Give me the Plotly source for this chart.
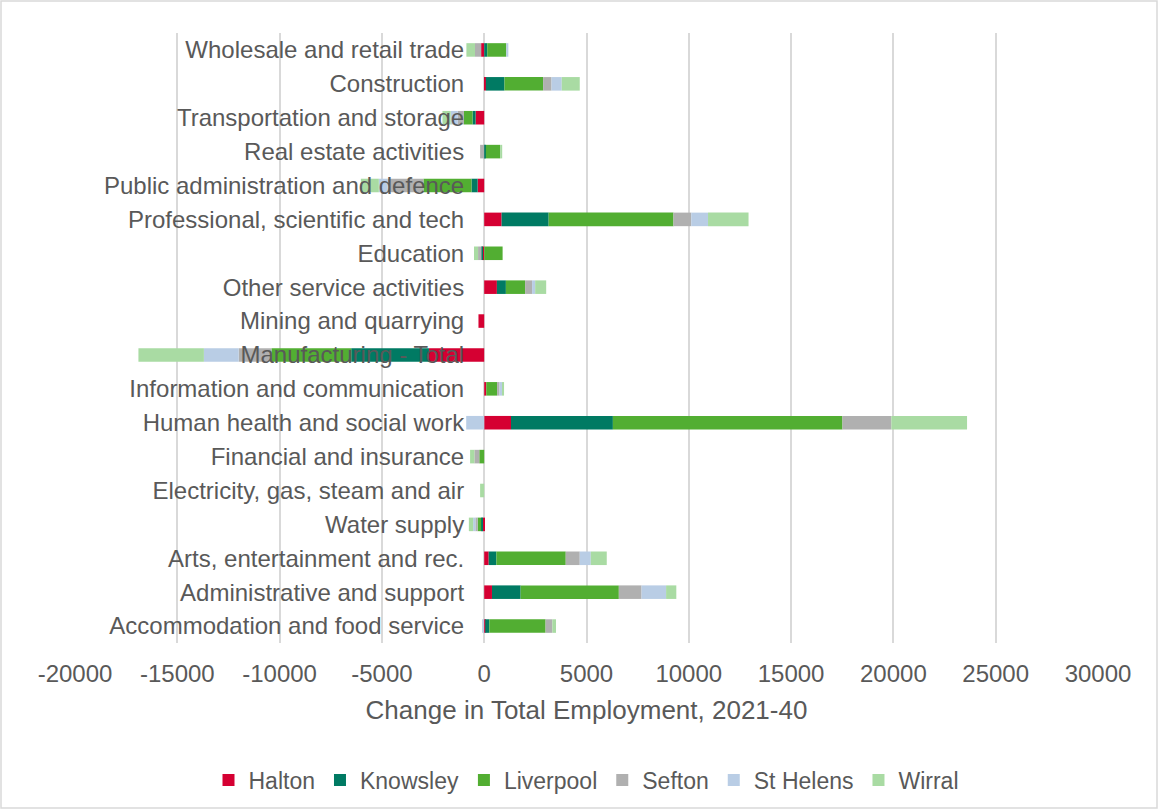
import plotly.graph_objects as go

# Sectors, listed top to bottom as they appear on the chart
sectors = [
    "Wholesale and retail trade",
    "Construction",
    "Transportation and storage",
    "Real estate activities",
    "Public administration and defence",
    "Professional, scientific and tech",
    "Education",
    "Other service activities",
    "Mining and quarrying",
    "Manufacturing - Total",
    "Information and communication",
    "Human health and social work",
    "Financial and insurance",
    "Electricity, gas, steam and air",
    "Water supply",
    "Arts, entertainment and rec.",
    "Administrative and support",
    "Accommodation and food service",
]

# Change in employment 2021-40 by local authority
halton = [-150, 80, -420, 0, -320, 850, -100, 620, -280, -2700, 100, 1310, 0, 0, -70, 220, 380, 50]
knowsley = [150, 910, -150, 80, -300, 2300, -30, 440, 0, -3800, 0, 4980, 0, 0, -80, 375, 1400, 200]
liverpool = [930, 1890, -420, 700, -2350, 6100, 900, 940, 0, -3900, 530, 11220, -240, 0, -170, 3390, 4800, 2750]
sefton = [-300, 410, -300, -200, -1750, 870, -170, 340, 0, -1600, 120, 2390, -240, 0, -110, 685, 1110, 330]
st_helens = [100, 500, -350, 0, -430, 820, 0, 150, 0, -1700, 120, -880, 0, 0, -110, 540, 1200, -100]
wirral = [-420, 880, -400, 100, -880, 1980, -200, 540, 0, -3200, 100, 3700, -210, -200, -210, 780, 500, 180]

series = [
    ("Halton", halton, "#D50032"),
    ("Knowsley", knowsley, "#007A63"),
    ("Liverpool", liverpool, "#52AE32"),
    ("Sefton", sefton, "#B0B0B0"),
    ("St Helens", st_helens, "#B9CDE5"),
    ("Wirral", wirral, "#A9DBA3"),
]

x_ticks = [-20000, -15000, -10000, -5000, 0, 5000, 10000, 15000, 20000, 25000, 30000]

TEXT = "#595959"
GRID = "#D9D9D9"
FONT = "Liberation Sans, Arial, sans-serif"

fig = go.Figure()
for name, vals, color in series:
    fig.add_trace(go.Bar(
        name=name, y=sectors, x=vals, orientation="h",
        marker=dict(color=color, line=dict(width=0)),
    ))

# Outer frame around the whole chart (pixel -> paper conversion)
L, R, T, B = 75, 61, 33, 167
W, H = 1159, 810
pw, ph = W - L - R, H - T - B
def px_x(p):
    return (p - L) / pw
def px_y(p):
    return (H - B - p) / ph

fig.add_shape(type="rect", xref="paper", yref="paper",
              x0=px_x(1), x1=px_x(W - 2), y0=px_y(H - 2), y1=px_y(1),
              line=dict(color=GRID, width=1.5), fillcolor="rgba(0,0,0,0)", layer="below")

fig.update_layout(
    width=W, height=H,
    margin=dict(l=L, r=R, t=T, b=B, autoexpand=False),
    barmode="relative",
    bargap=0.6,
    plot_bgcolor="white", paper_bgcolor="white",
    font=dict(family=FONT, color=TEXT, size=24),
    xaxis=dict(
        range=[-20000, 30000],
        tickvals=x_ticks,
        ticktext=[str(v) for v in x_ticks],
        showgrid=True, gridcolor=GRID, gridwidth=2,
        zeroline=True, zerolinecolor=GRID, zerolinewidth=2,
        showline=False, ticks="", ticklabelstandoff=14,
        tickfont=dict(size=24, color=TEXT),
        title=dict(text="Change in Total Employment, 2021-40",
                   font=dict(size=26, color=TEXT), standoff=14),
        automargin=False,
    ),
    yaxis=dict(
        autorange="reversed",
        anchor="free", position=0.4,
        showgrid=False, zeroline=False, showline=False,
        ticks="", ticklabelstandoff=20,
        tickfont=dict(size=24, color=TEXT),
        automargin=False,
    ),
    legend=dict(
        orientation="h", x=0.5, xanchor="center",
        y=px_y(780), yanchor="middle",
        font=dict(size=23, color=TEXT),
        itemwidth=30, traceorder="normal",
    ),
    showlegend=True,
)

fig.write_html("out.html")
